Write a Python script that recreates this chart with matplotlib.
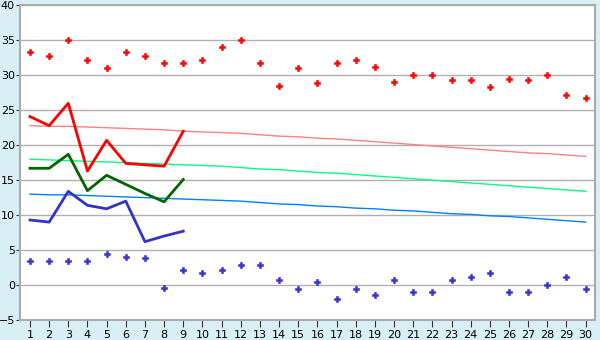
import matplotlib.pyplot as plt

days = list(range(1, 31))

# 記録最高・最低 (点)
rec_high = [33.4, 32.8, 35.0, 32.2, 31.1, 33.4, 32.8, 31.7, 31.7, 32.2,
            34.0, 35.0, 31.7, 28.5, 31.1, 28.9, 31.7, 32.2, 31.2, 29.1,
            30.0, 30.0, 29.4, 29.4, 28.4, 29.5, 29.4, 30.0, 27.2, 26.7]
rec_low = [3.4, 3.4, 3.4, 3.4, 4.4, 4.0, 3.8, -0.5, 2.2, 1.7,
           2.2, 2.8, 2.8, 0.7, -0.6, 0.5, -2.0, -0.6, -1.5, 0.7,
           -1.0, -1.0, 0.7, 1.1, 1.7, -1.0, -1.0, 0.0, 1.1, -0.6]

# 今年の値 (1-9日)
obs_days = days[:9]
obs_high = [24.1, 22.8, 26.0, 16.3, 20.7, 17.4, 17.2, 17.0, 22.0]
obs_mean = [16.7, 16.7, 18.7, 13.5, 15.7, 14.4, 13.1, 11.9, 15.1]
obs_low = [9.3, 9.0, 13.4, 11.4, 10.9, 12.0, 6.2, 7.0, 7.7]

# 平年値
norm_high = [22.8, 22.7, 22.7, 22.6, 22.5, 22.4, 22.3, 22.2, 22.0, 21.9,
             21.8, 21.7, 21.5, 21.3, 21.2, 21.0, 20.9, 20.7, 20.5, 20.3,
             20.1, 19.9, 19.7, 19.5, 19.3, 19.1, 18.9, 18.8, 18.6, 18.4]
norm_mean = [18.0, 17.9, 17.8, 17.7, 17.6, 17.5, 17.4, 17.3, 17.2, 17.1,
             17.0, 16.8, 16.6, 16.5, 16.3, 16.1, 16.0, 15.8, 15.6, 15.4,
             15.2, 15.0, 14.8, 14.6, 14.4, 14.2, 14.0, 13.8, 13.6, 13.4]
norm_low = [13.0, 12.9, 12.9, 12.8, 12.7, 12.6, 12.5, 12.4, 12.3, 12.2,
            12.1, 12.0, 11.8, 11.6, 11.5, 11.3, 11.2, 11.0, 10.9, 10.7,
            10.6, 10.4, 10.2, 10.1, 9.9, 9.8, 9.6, 9.4, 9.2, 9.0]

fig = plt.figure(figsize=(6, 3.4), dpi=100, facecolor='#d9eff6')
ax = fig.add_axes([0.034, 0.059, 0.958, 0.925])
ax.set_facecolor('white')

ax.plot(days, norm_high, color='#ff8080', lw=1)
ax.plot(days, norm_mean, color='#00ff80', lw=1)
ax.plot(days, norm_low, color='#0080ff', lw=1)

ax.plot(obs_days, obs_high, color='#ff0000', lw=2)
ax.plot(obs_days, obs_mean, color='#006600', lw=2)
ax.plot(obs_days, obs_low, color='#3333cc', lw=2)

ax.plot(days, rec_high, 'P', color='#ff0000', ms=4.8, mew=0.4, ls='none')
ax.plot(days, rec_low, 'P', color='#3333cc', ms=4.8, mew=0.4, ls='none')

ax.set_xlim(0.5, 30.5)
ax.set_ylim(-5, 40)
ax.set_xticks(days)
ax.set_yticks(range(-5, 41, 5))
ax.yaxis.grid(True, color='#b0b0b0', lw=1)
ax.set_axisbelow(True)
for s in ax.spines.values():
    s.set_color('#aaaaaa')
    s.set_linewidth(1.5)
ax.tick_params(axis='y', length=3, color='#333333', labelsize=8, pad=1)
ax.tick_params(axis='x', length=5, color='#333333', labelsize=8, pad=2)

fig.savefig('out.png', dpi=100, facecolor=fig.get_facecolor())
